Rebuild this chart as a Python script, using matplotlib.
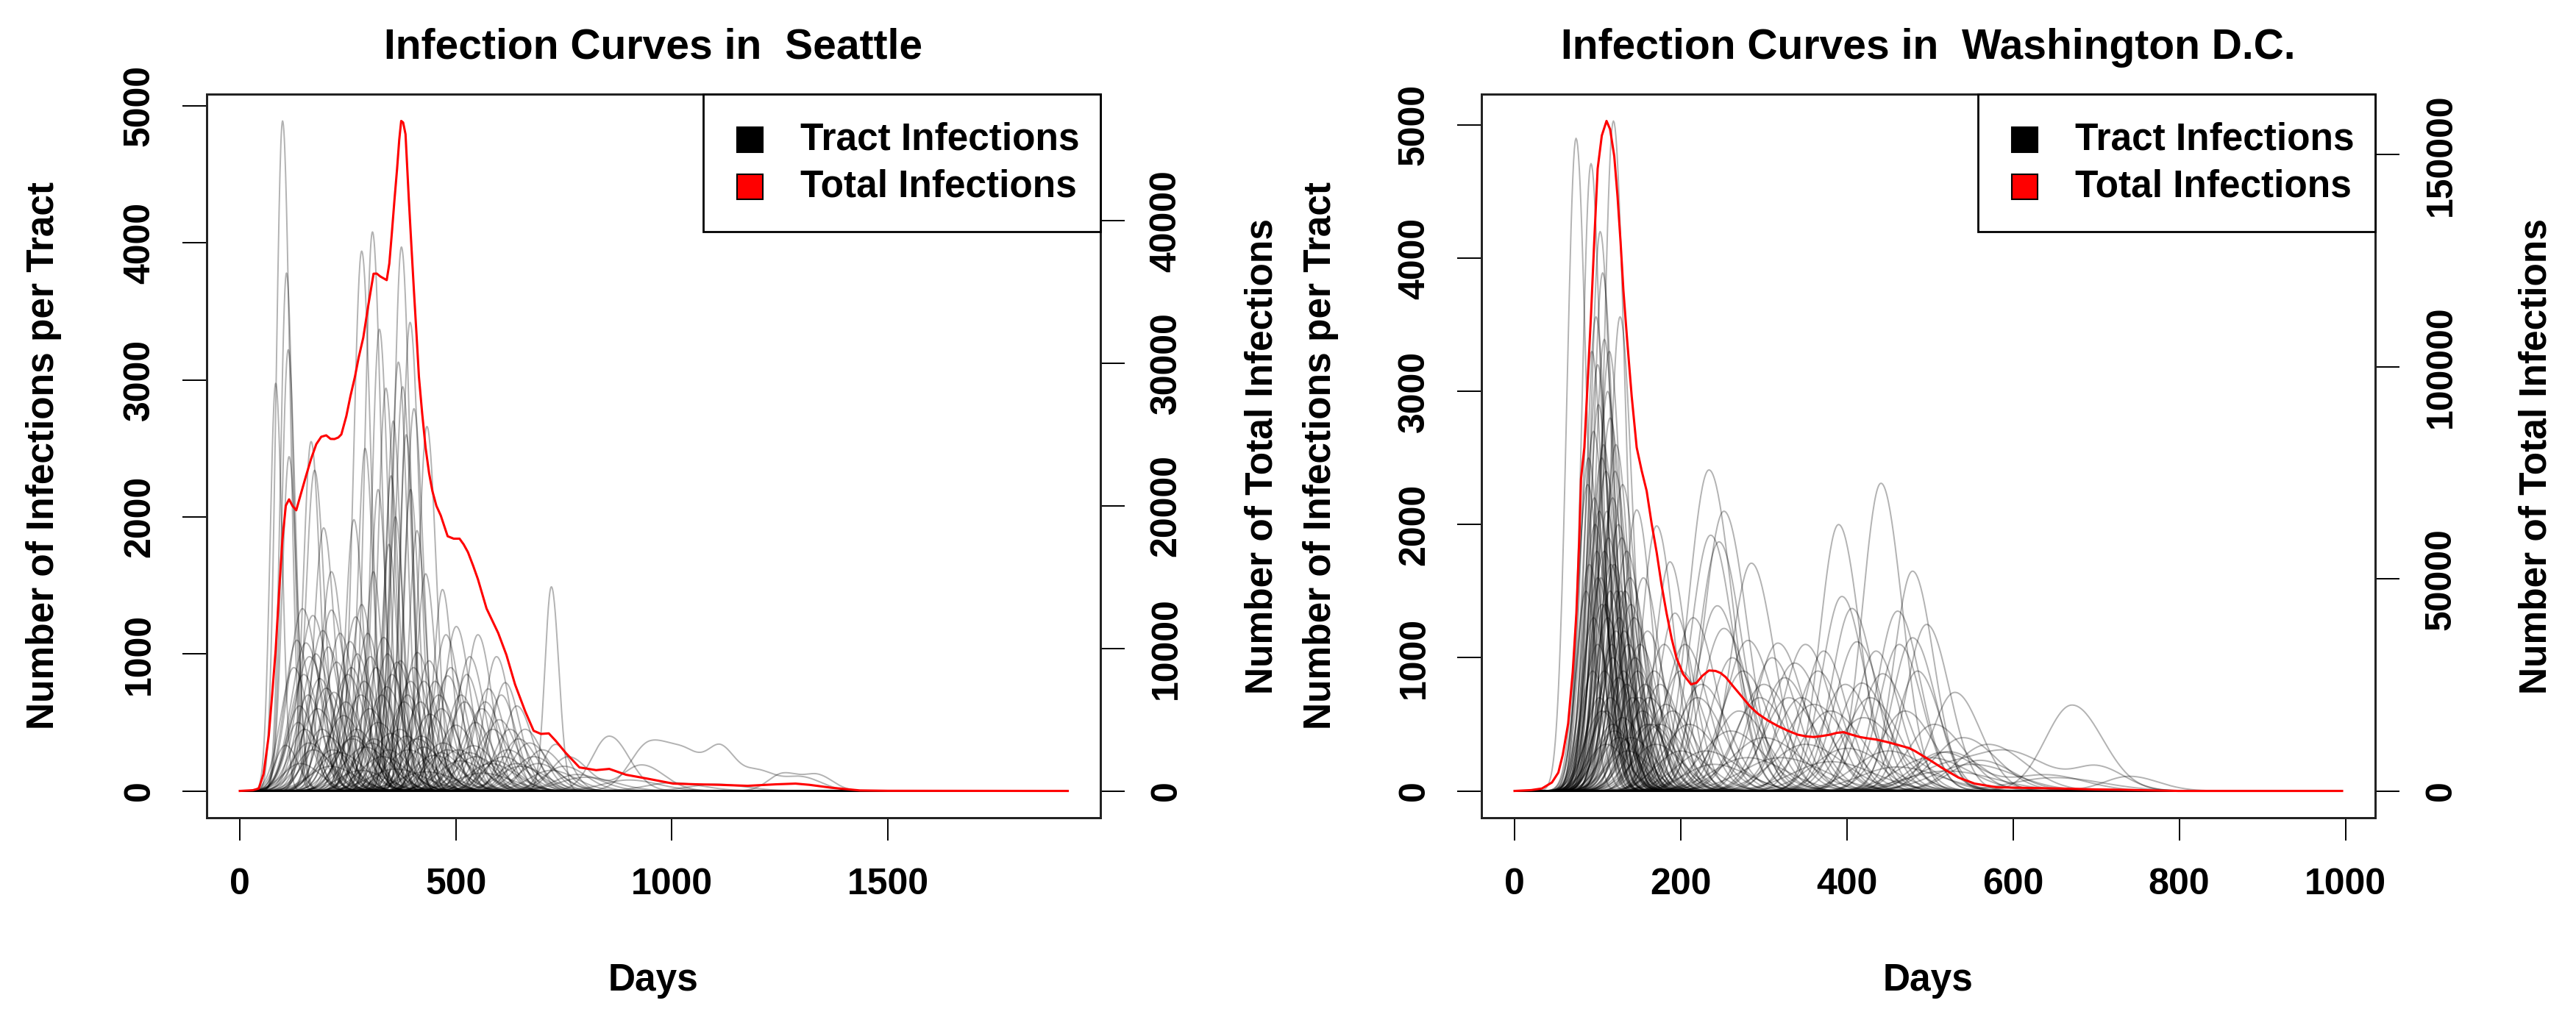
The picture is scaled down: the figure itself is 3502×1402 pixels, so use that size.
import numpy as np
import matplotlib
matplotlib.use("Agg")
import matplotlib.pyplot as plt
from matplotlib.patches import Rectangle

plt.rcParams['font.family'] = ['Liberation Sans', 'DejaVu Sans']
plt.rcParams['font.weight'] = 'bold'

# ---------------- DATA ----------------
# Seattle tract curves: peak day, peak height, spread (days)
sea_peak_day = [99, 108, 112, 83, 114, 282, 307, 374, 323, 394, 367, 338, 377, 403, 433,
                165, 173, 194, 264, 212, 309, 430, 469, 350, 360, 385, 345, 395, 410, 355,
                290, 320,
                145, 169, 212, 268, 282, 501, 477, 551, 192, 333, 594, 532, 153, 255, 411, 721,
                481, 614, 575, 641, 161, 224, 302, 364, 395, 426, 138, 250, 280, 340, 460, 520,
                560, 200, 180, 300, 380, 440, 600, 660, 240, 320, 500, 150,
                106, 731, 200, 260, 350, 410, 470, 540, 620, 680, 170, 230, 290, 330, 390, 450,
                510, 580, 650, 720, 780, 140, 210, 280, 360, 430, 560, 800, 900, 1000, 1100,
                125, 132, 148, 158, 176, 185, 205, 218, 232, 245, 258, 272, 288, 296, 315, 328,
                342, 352, 372, 388, 402, 418, 438, 452, 466, 488, 512, 525, 545, 568, 585, 605,
                625, 645, 670, 700, 135, 190, 270, 310, 370, 420, 480, 530, 610, 690, 750,
                160, 215, 265, 305, 345, 385, 425, 465, 505, 545, 590, 640]
sea_peak_height = [4890, 3780, 3220, 2975, 2440, 3940, 4080, 3970, 3370, 3420, 3130, 2940, 2950, 2790, 2660,
                   2550, 2340, 1920, 1980, 1600, 1600, 1585, 1470, 2300, 2000, 2600, 1800, 2200, 1900, 2700,
                   2500, 2200,
                   1330, 1280, 1320, 1270, 1360, 1200, 1140, 1140, 1170, 1120, 980, 980, 1080, 1090, 1010, 1490,
                   840, 790, 745, 620, 980, 940, 980, 940, 800, 800, 620, 850, 700, 760, 700, 650,
                   600, 750, 600, 600, 650, 560, 520, 450, 550, 500, 480, 450,
                   333, 340, 400, 380, 420, 380, 350, 330, 300, 250, 300, 280, 320, 250, 300, 260,
                   220, 200, 180, 150, 120, 200, 180, 150, 160, 140, 130, 100, 80, 60, 50,
                   900, 1100, 850, 700, 1000, 820, 1050, 720, 1150, 650, 900, 1000, 800, 1150, 900, 700,
                   1000, 850, 950, 700, 900, 650, 950, 800, 600, 900, 700, 850, 500, 650, 450, 700,
                   450, 380, 350, 300, 500, 450, 450, 380, 450, 400, 300, 280, 250, 200, 180,
                   350, 300, 400, 350, 300, 400, 320, 280, 300, 250, 220, 200]
sea_peak_width = [15, 14, 15, 13, 16, 19, 18, 18, 18, 19, 18, 18, 18, 19, 19,
                  18, 20, 22, 19, 24, 18, 20, 20, 16, 17, 16, 17, 17, 18, 16,
                  17, 17,
                  32, 33, 30, 28, 25, 28, 28, 28, 32, 32, 28, 30, 34, 32, 32, 15,
                  32, 30, 32, 32, 36, 34, 32, 32, 34, 32, 30, 36, 40, 36, 36, 36,
                  36, 36, 40, 40, 36, 40, 36, 36, 40, 45, 40, 35,
                  25, 30, 45, 45, 45, 45, 45, 45, 45, 45, 40, 50, 50, 50, 50, 50,
                  50, 50, 50, 50, 50, 40, 50, 50, 60, 60, 60, 60, 60, 60, 60,
                  30, 28, 32, 30, 32, 34, 30, 34, 30, 36, 32, 30, 34, 28, 32, 34,
                  30, 32, 30, 34, 32, 34, 30, 32, 36, 32, 34, 30, 36, 34, 38, 30,
                  36, 38, 40, 40, 30, 36, 40, 40, 40, 40, 45, 45, 45, 45, 45,
                  40, 40, 40, 40, 40, 40, 40, 40, 45, 45, 45, 45]

# Seattle long-tail tracts made of several bumps (same id = one curve)
sea_multi_id = [0, 1, 1, 1, 1, 1, 2, 2, 3, 3]
sea_multi_day = [855, 949, 1040, 1116, 1200, 1300, 1259, 1340, 760, 930]
sea_multi_height = [400, 350, 220, 270, 140, 100, 130, 105, 250, 190]
sea_multi_width = [40, 45, 40, 30, 35, 40, 35, 30, 40, 45]

# Seattle total infections (right axis)
sea_total_day = [0, 30, 44, 55, 67, 75, 83, 91, 98.6, 106.5, 114, 122, 130.6, 140, 153, 165,
                 177, 188.5, 200, 210, 219, 228, 235, 246.6, 256, 266.5, 275, 285.7, 297,
                 309.5, 317, 325, 340, 346, 352, 358, 364, 369, 373.5, 378, 383.5, 387, 391,
                 397, 403, 409, 414.5, 422, 430, 438, 445.6, 455, 465, 473, 481, 495, 508.5,
                 518, 528, 540, 551, 571, 598, 617, 637, 660.5, 680, 697, 715, 731, 754, 786,
                 824.5, 855, 894, 941, 1003, 1059, 1109.5, 1175, 1240, 1286, 1318, 1370, 1435,
                 1500, 1916]
sea_total_val = [0, 50, 170, 1200, 3870, 6800, 9900, 14000, 17630, 20020, 20460, 20000, 19690,
                 20700, 22080, 23300, 24330, 24850, 24950, 24700, 24690, 24800, 25015, 26305,
                 27700, 29070, 30400, 31800, 34000, 36290, 36300, 36100, 35840, 37000, 39190,
                 41500, 43660, 45700, 47010, 46900, 46080, 44000, 41600, 38300, 35070, 32000,
                 29070, 26500, 24070, 22300, 21050, 20000, 19330, 18600, 17870, 17700, 17700,
                 17300, 16750, 15800, 14860, 12800, 11080, 9540, 7470, 5580, 4220, 4000, 4040,
                 3520, 2680, 1650, 1460, 1546, 1134, 876, 515, 464, 430, 360, 464, 515, 430,
                 222, 36, 10, 0]

# Washington D.C. tract curves
dc_peak_day = [74, 92, 119, 103, 106, 98, 127, 108, 112, 100, 115, 95, 122, 105, 110, 88, 130,
               118, 102, 125, 97, 113, 108, 135, 90, 120, 100, 115, 128, 105, 140, 95, 112, 122,
               132, 100, 118, 145, 108, 125, 135, 115, 150, 105, 130, 160, 120, 140, 110, 170,
               147, 171, 187, 193, 160, 155, 180, 200,
               234, 441, 252, 390, 236, 246, 285, 479, 394, 461, 244, 406, 496, 252, 479, 463,
               281, 317, 350, 412, 337, 443, 418, 530, 671, 522, 300, 330, 360, 380, 420, 270,
               220, 210, 260, 300, 350, 400, 450, 500, 550, 230, 280, 190, 175, 200, 240, 320,
               380, 460, 520, 650,
               86, 89, 93, 96, 99, 101, 104, 107, 109, 111, 114, 116, 117, 121, 123, 126, 129,
               131, 133, 137, 139, 142, 144, 148, 151, 154, 157, 162, 165, 168, 175, 182, 94,
               102, 110, 118, 126, 136,
               205, 215, 225, 262, 275, 295, 310, 325, 345, 365, 372, 398, 428, 435, 470, 485,
               505, 540, 570]
dc_peak_height = [4900, 4710, 5030, 4200, 3890, 3560, 3560, 3390, 3000, 3200, 2800, 2700, 2600,
                  2500, 2400, 2300, 2300, 2200, 2100, 2000, 2000, 1900, 1800, 1800, 1700, 1700,
                  1600, 1500, 1500, 1400, 1400, 1300, 1300, 1200, 1200, 1100, 1000, 1000, 900,
                  850, 800, 700, 700, 600, 550, 500, 450, 400, 350, 350,
                  2110, 1990, 1720, 1335, 1200, 1600, 1100, 900,
                  2410, 2310, 2100, 2000, 1920, 1870, 1710, 1650, 1460, 1350, 1390, 1370, 1250,
                  1220, 1150, 1100, 1130, 1110, 1100, 1120, 960, 880, 810, 740, 645, 295, 800,
                  700, 650, 600, 550, 600, 700, 500, 450, 400, 350, 320, 300, 250, 200, 300,
                  250, 600, 800, 300, 200, 250, 220, 180, 150, 100,
                  1500, 2500, 3300, 2200, 1800, 2900, 1600, 2600, 1400, 2100, 3300, 1700, 1100,
                  2400, 1500, 1300, 1900, 900, 1500, 1100, 1600, 700, 1300, 900, 1100, 600, 800,
                  700, 500, 900, 500, 650, 900, 700, 600, 500, 400, 300,
                  1100, 1300, 800, 1000, 900, 700, 1000, 850, 700, 900, 1050, 800, 700, 1050,
                  600, 900, 500, 400, 350]
dc_peak_width = [11, 11, 12, 12, 12, 12, 13, 12, 13, 12, 14, 13, 14, 14, 15, 13, 15, 15, 14, 16,
                 14, 15, 16, 17, 14, 16, 15, 16, 17, 16, 18, 15, 17, 18, 18, 16, 18, 20, 18, 20,
                 20, 20, 22, 20, 22, 25, 22, 25, 22, 28,
                 16, 18, 18, 20, 20, 18, 22, 25,
                 24, 22, 24, 22, 24, 24, 24, 22, 24, 24, 26, 24, 24, 27, 24, 24, 27, 27, 27, 26,
                 30, 27, 28, 27, 32, 35, 30, 30, 35, 35, 35, 30, 28, 30, 35, 40, 40, 40, 40, 40,
                 45, 35, 40, 25, 22, 30, 35, 45, 45, 45, 50, 50,
                 12, 12, 12, 13, 13, 12, 14, 13, 15, 14, 13, 15, 16, 14, 16, 17, 16, 18, 17, 18,
                 18, 20, 19, 20, 20, 22, 22, 24, 25, 22, 26, 24, 15, 16, 18, 20, 22, 24,
                 24, 24, 28, 26, 28, 30, 26, 28, 30, 26, 24, 28, 30, 24, 30, 24, 32, 35, 38]

dc_multi_id = [0, 0, 0, 1, 1, 2, 2]
dc_multi_day = [600, 703, 520, 515, 640, 560, 740]
dc_multi_height = [260, 170, 180, 290, 120, 230, 110]
dc_multi_width = [40, 28, 40, 35, 40, 35, 30]

# D.C. total infections (right axis)
dc_total_day = [0, 20, 33, 45, 52.7, 58, 64.5, 70, 74.4, 78, 80, 84, 92, 96, 100, 105, 110.7,
                115, 120, 124, 127.6, 131, 135.5, 141, 147, 153, 159, 165, 171, 177, 183, 189,
                194.7, 203, 212.4, 219, 226, 234, 242, 248, 254, 263, 273.6, 283, 293, 305,
                317, 329, 340.6, 350, 360, 370, 380, 388, 396, 405, 415.6, 425, 435, 447, 459,
                474.7, 482, 490.5, 502, 514, 534, 553.6, 580, 620, 657, 700, 728, 799, 996]
dc_total_val = [0, 200, 580, 2000, 4335, 8500, 15880, 28000, 41860, 60000, 73610, 81000,
                112110, 130000, 146700, 154500, 157960, 156000, 149650, 140000, 129400, 118000,
                106340, 93000, 80970, 75500, 70720, 63000, 56290, 48500, 41860, 36000, 31470,
                27500, 25120, 25500, 27140, 28400, 28290, 27800, 26850, 24700, 22230, 20000,
                18190, 16600, 15300, 14200, 13280, 12900, 12710, 12950, 13280, 13700, 13860,
                13300, 12710, 12400, 12130, 11600, 10980, 10110, 9400, 8380, 7000, 5490, 3180,
                1740, 870, 700, 580, 350, 290, 0, 0]

sea_xticks = [0, 500, 1000, 1500]
dc_xticks = [0, 200, 400, 600, 800, 1000]
left_yticks = [0, 1000, 2000, 3000, 4000, 5000]
sea_rticks = [0, 10000, 20000, 30000, 40000]
dc_rticks = [0, 50000, 100000, 150000]
legend_labels = ["Tract Infections", "Total Infections"]
legend_colors = ["black", "red"]

# ---------------- PLOT ----------------
W, H = 3502, 1402
fig = plt.figure(figsize=(W / 100, H / 100), dpi=100)

TICK_FS = 36
LAB_FS = 37
TITLE_FS = 41
TRACT_ALPHA = 0.3


def bumps(t, days, heights, widths, skew=1.15):
    y = np.zeros_like(t, dtype=float)
    for d, h, w in zip(days, heights, widths):
        sd = np.where(t < d, w, w * skew)
        y += h * np.exp(-0.5 * ((t - d) / sd) ** 2)
    return y


def panel(x0px, ndays, pdays, pheights, pwidths, mid, mday, mheight, mwidth,
          tday, tval, xticks, rticks, title, ylab_left_x, ytick_pad_r, ylab_right_x):
    x1px = x0px + 1215
    ax = fig.add_axes([x0px / W, 1 - 1112 / H, 1215 / W, 984 / H])
    t = np.arange(0, ndays + 1)
    for d, h, w in zip(pdays, pheights, pwidths):
        ax.plot(t, bumps(t, [d], [h], [w]), color='black', alpha=TRACT_ALPHA, lw=1.4,
                solid_joinstyle='round')
    for g in sorted(set(mid)):
        sel = [i for i, v in enumerate(mid) if v == g]
        y = bumps(t, [mday[i] for i in sel], [mheight[i] for i in sel],
                  [mwidth[i] for i in sel])
        ax.plot(t, y, color='black', alpha=TRACT_ALPHA, lw=1.4)
    ymax_l = max(pheights)
    ax.set_ylim(-0.04 * ymax_l, 1.04 * ymax_l)
    ax.set_xlim(-0.04 * ndays, 1.04 * ndays)
    ax.set_xticks(xticks)
    ax.set_yticks(left_yticks)
    ax.set_xticklabels([str(v) for v in xticks])
    ax.set_yticklabels([str(v) for v in left_yticks], rotation=90, va='center')
    ax.tick_params(axis='x', length=22, width=1.4, pad=27, labelsize=TICK_FS, direction='out')
    ax.tick_params(axis='y', length=24, width=1.4, pad=25, labelsize=TICK_FS, direction='out')

    ax2 = ax.twinx()
    ax2.plot(tday, tval, color='red', lw=2.2, solid_joinstyle='round')
    ymax_r = max(tval)
    ax2.set_ylim(-0.04 * ymax_r, 1.04 * ymax_r)
    ax2.set_yticks(rticks)
    ax2.set_yticklabels([str(v) for v in rticks], rotation=90, va='center')
    ax2.tick_params(axis='y', length=24, width=1.4, pad=ytick_pad_r, labelsize=TICK_FS,
                    direction='out')
    for a in (ax, ax2):
        for s in a.spines.values():
            s.set_linewidth(2.0)
            s.set_color('#222222')

    # legend (drawn in axes coordinates)
    lx0, ly0 = 0.5552, 0.810
    ax2.add_patch(Rectangle((lx0, ly0), 1 - lx0, 1 - ly0, transform=ax2.transAxes,
                            facecolor='white', edgecolor='black', lw=2.0, zorder=20,
                            clip_on=False))
    for lab, col, yy in zip(legend_labels, legend_colors, [0.937, 0.872]):
        ax2.add_patch(Rectangle((0.608 - 0.0145, yy - 0.017), 0.029, 0.034,
                                transform=ax2.transAxes, facecolor=col, edgecolor='black',
                                lw=1.5, zorder=21, clip_on=False))
        ax2.text(0.664, yy, lab, transform=ax2.transAxes, fontsize=LAB_FS, fontweight='bold',
                 va='center', ha='left', zorder=22)

    cx = (x0px + x1px) / 2
    fig.text(cx / W, 1 - 65 / H, title, ha='center', va='center', fontsize=TITLE_FS,
             fontweight='bold')
    fig.text(cx / W, 1 - 1333 / H, "Days", ha='center', va='center', fontsize=LAB_FS,
             fontweight='bold')
    fig.text(ylab_left_x / W, 1 - 620 / H, "Number of Infections per Tract", rotation=90,
             ha='center', va='center', fontsize=LAB_FS, fontweight='bold')
    fig.text(ylab_right_x / W, 1 - 620 / H, "Number of Total Infections", rotation=90,
             ha='center', va='center', fontsize=LAB_FS, fontweight='bold')
    return ax, ax2


panel(281, 1915, sea_peak_day, sea_peak_height, sea_peak_width,
      sea_multi_id, sea_multi_day, sea_multi_height, sea_multi_width,
      sea_total_day, sea_total_val, sea_xticks, sea_rticks,
      "Infection Curves in  Seattle", 60, 24, 1716)
panel(2014, 996, dc_peak_day, dc_peak_height, dc_peak_width,
      dc_multi_id, dc_multi_day, dc_multi_height, dc_multi_width,
      dc_total_day, dc_total_val, dc_xticks, dc_rticks,
      "Infection Curves in  Washington D.C.", 1795, 24, 3448)

fig.savefig("out.png", dpi=100, facecolor='white')
